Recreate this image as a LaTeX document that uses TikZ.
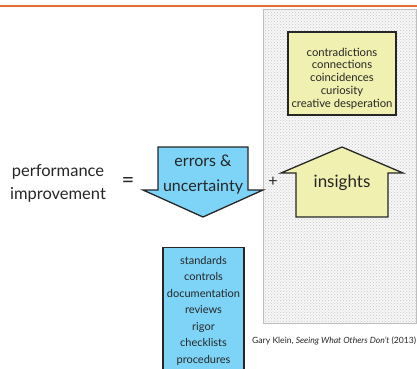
\documentclass[tikz,border=0pt]{standalone}
\usepackage{fontspec}
\setmainfont{Lato}
\usetikzlibrary{patterns,positioning}
\definecolor{slideorange}{RGB}{226,112,50}
\definecolor{errblue}{RGB}{125,212,247}
\definecolor{insyellow}{RGB}{240,240,176}
\begin{document}
\begin{tikzpicture}[x=1pt,y=-1pt,
		panel/.style={draw=gray!50,line width=0.8pt,preaction={fill=gray!6},pattern=crosshatch dots,pattern color=gray!45},
		shape line/.style={draw=black!85,line width=1.3pt,line join=miter},
		bigtext/.style={font=\fontsize{16}{25}\selectfont,align=center,text=black!85},
		listtext/.style={align=center,text=black!85,inner sep=0pt}
		]
	\useasboundingbox (0,0) rectangle (417,368);
	\clip (0,0) rectangle (417,368);
	% slide rule and shaded panel
	\draw[slideorange,line width=2pt] (0,6) -- (417,6);
	\draw[panel] (263,9) rectangle (416,323);

	% left hand side
	\node[bigtext,font=\fontsize{16.5}{23}\selectfont] (perf) at (58,183) {performance\\improvement};
	\node[bigtext,font=\fontsize{22}{25}\selectfont] (equals) at (128,182) {=};

	% down arrow
	\draw[shape line,fill=errblue] (158,147) -- (248,147) -- (248,190) -- (263,190)
		-- (203,217) -- (143,190) -- (158,190) -- cycle;
	\node[bigtext] (errors) at (203,175) {errors \&\\uncertainty};

	\node[bigtext] (plus) at (273,182) {+};

	% up arrow
	\draw[shape line,fill=insyellow] (296,217) -- (296,173) -- (281,173) -- (342,147)
		-- (403,173) -- (388,173) -- (388,217) -- cycle;
	\node[bigtext,font=\fontsize{17}{25}\selectfont] (insights) at (342,183) {insights};

	% sources of insight
	\node[shape line,fill=insyellow,minimum width=108pt,minimum height=83pt] (sourcebox) at (342,73.5) {};
	\node[listtext,font=\fontsize{11.3}{12.75}\selectfont] (sources) at (sourcebox.center) [yshift=-5pt]
		{contradictions\\connections\\coincidences\\curiosity\\creative desperation};

	% ways to reduce errors
	\node[shape line,fill=errblue,minimum width=81pt,minimum height=135pt,anchor=north] (controlbox) at (203.5,247) {};
	\node[listtext,font=\fontsize{11}{16.5}\selectfont] (controls) at (203.5,310.5)
		{standards\\controls\\documentation\\reviews\\rigor\\checklists\\procedures};

	% reference
	\node[anchor=west,inner sep=0pt,text=black!85,font=\fontsize{8.6}{10}\selectfont] (cite) at (252,341)
		{Gary Klein, \textit{Seeing What Others Don't} (2013)};
\end{tikzpicture}
\end{document}
